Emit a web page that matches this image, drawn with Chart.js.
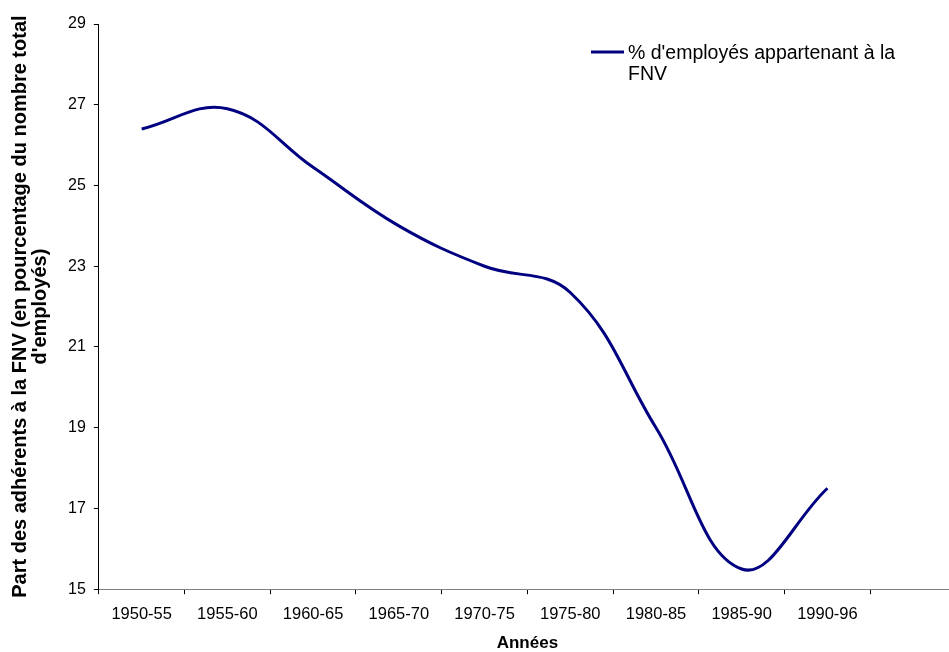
<!DOCTYPE html>
<html>
<head>
<meta charset="utf-8">
<script src="https://cdn.jsdelivr.net/npm/chart.js@4/dist/chart.umd.min.js"></script>
<style>
  html, body { margin: 0; padding: 0; background: #fff; overflow: hidden; }
  #wrap { width: 956px; height: 652px; }
</style>
</head>
<body>
<div id="wrap"><canvas id="c"></canvas></div>
<script>
const categories = ['1950-55', '1955-60', '1960-65', '1965-70', '1970-75', '1975-80', '1980-85', '1985-90', '1990-96', ''];
const fnvShare = [26.4, 26.9, 25.45, 24.0, 23.0, 22.35, 19.0, 15.5, 17.5, null];
const seriesLabel = "% d'employés appartenant à la FNV";
const legendLines = ["% d'employés appartenant à la", "FNV"];
const yTitleLines = ["Part des adhérents à la FNV (en pourcentage du nombre total", "d'employés)"];
const xTitle = 'Années';
const yMin = 15, yMax = 29, yStep = 2;

const FONT = 'Arial, "Liberation Sans", sans-serif';

const legendPlugin = {
  id: 'customLegend',
  afterDraw(chart) {
    const ctx = chart.ctx;
    const ds = chart.data.datasets[0];
    ctx.save();
    ctx.strokeStyle = ds.borderColor;
    ctx.lineWidth = 3;
    ctx.beginPath();
    ctx.moveTo(591, 52);
    ctx.lineTo(624, 52);
    ctx.stroke();
    ctx.fillStyle = '#000';
    ctx.font = '19.5px ' + FONT;
    ctx.textBaseline = 'middle';
    ctx.textAlign = 'left';
    legendLines.forEach((t, i) => ctx.fillText(t, 628, 54 + i * 21));
    ctx.restore();
  }
};

new Chart(document.getElementById('c'), {
  type: 'line',
  data: {
    labels: categories,
    datasets: [{
      label: seriesLabel,
      data: fnvShare,
      borderColor: '#000080',
      backgroundColor: '#000080',
      borderWidth: 3,
      pointRadius: 0,
      tension: 0.4,
      fill: false
    }]
  },
  options: {
    responsive: true,
    maintainAspectRatio: false,
    animation: false,
    layout: { padding: { top: 24, right: 0, bottom: 0, left: 10 } },
    plugins: {
      legend: { display: false },
      tooltip: { enabled: false }
    },
    scales: {
      x: {
        offset: true,
        grid: { display: true, drawOnChartArea: false, drawTicks: true, tickLength: 5, tickColor: '#000', offset: true },
        border: { display: true, color: '#808080', width: 1 },
        ticks: { color: '#000', font: { family: FONT, size: 16.5 }, padding: 10.5, maxRotation: 0, autoSkip: false },
        title: { display: true, text: xTitle, color: '#000', font: { family: FONT, size: 17, weight: 'bold', lineHeight: 1 }, padding: { top: 0, bottom: 0 } }
      },
      y: {
        min: yMin,
        max: yMax,
        grid: { display: true, drawOnChartArea: false, drawTicks: true, tickLength: 5, tickColor: '#000' },
        border: { display: true, color: '#000', width: 1 },
        ticks: { stepSize: yStep, color: '#000', font: { family: FONT, size: 16 }, padding: 8 },
        title: { display: true, text: yTitleLines, color: '#000', font: { family: FONT, size: 20, weight: 'bold', lineHeight: 1.0 }, padding: { top: 0, bottom: 10 } }
      }
    }
  },
  plugins: [legendPlugin]
});
</script>
</body>
</html>
